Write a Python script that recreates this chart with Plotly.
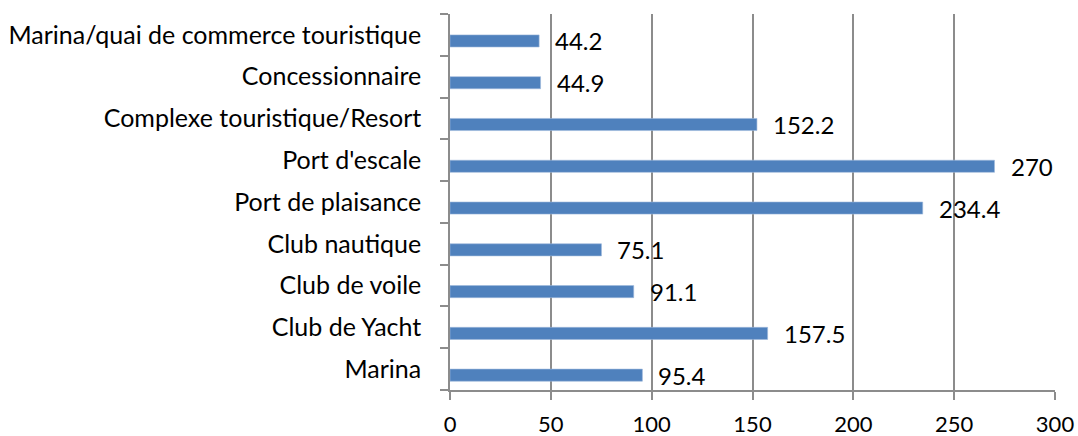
import plotly.graph_objects as go

categories = [
    "Marina",
    "Club de Yacht",
    "Club de voile",
    "Club nautique",
    "Port de plaisance",
    "Port d'escale",
    "Complexe touristique/Resort",
    "Concessionnaire",
    "Marina/quai de commerce touristique",
]
values = [95.4, 157.5, 91.1, 75.1, 234.4, 270, 152.2, 44.9, 44.2]
value_labels = ["95.4", "157.5", "91.1", "75.1", "234.4", "270", "152.2", "44.9", "44.2"]
x_ticks = [0, 50, 100, 150, 200, 250, 300]

FONT = "Lato"
fig = go.Figure()
fig.add_trace(go.Bar(
    x=values, y=categories, orientation="h",
    marker=dict(color="#4F81BD", line=dict(color="#9DB9DC", width=0.6)),
    width=0.29, offset=-0.29,
    hoverinfo="skip",
))

for v, c, t in zip(values, categories, value_labels):
    fig.add_annotation(x=v, y=c, text=t, showarrow=False, xanchor="left",
                       yanchor="middle", xshift=14, yshift=-6,
                       font=dict(family=FONT, size=24, color="#000000"))

fig.update_layout(
    width=1078, height=436,
    margin=dict(l=450, r=23, t=14, b=46, autoexpand=False),
    paper_bgcolor="white", plot_bgcolor="white",
    showlegend=False,
    font=dict(family=FONT, size=24, color="#000000"),
)
fig.update_xaxes(
    range=[0, 300], tickvals=x_ticks, ticktext=[str(t) for t in x_ticks],
    showgrid=True, gridcolor="#8C8C8C", gridwidth=1.5,
    showline=True, linecolor="#8C8C8C", linewidth=1.5,
    ticks="outside", ticklen=8, tickcolor="#8C8C8C", tickwidth=1.5,
    ticklabelstandoff=6, zeroline=False, automargin=False,
    tickfont=dict(family=FONT, size=22, color="#000000"),
)
fig.update_yaxes(
    type="category", categoryorder="array", categoryarray=categories,
    range=[-0.5, 8.5],
    showgrid=False, showline=True, linecolor="#8C8C8C", linewidth=1.5,
    ticks="outside", ticklen=8, tickcolor="#8C8C8C", tickwidth=1.5,
    tickson="boundaries", ticklabelstandoff=22, automargin=False,
    tickfont=dict(family=FONT, size=25, color="#000000"),
)

fig.write_html(
    "out.html",
    config={"displayModeBar": False},
    post_script="document.body.style.margin='0';document.body.style.overflow='hidden';",
)
